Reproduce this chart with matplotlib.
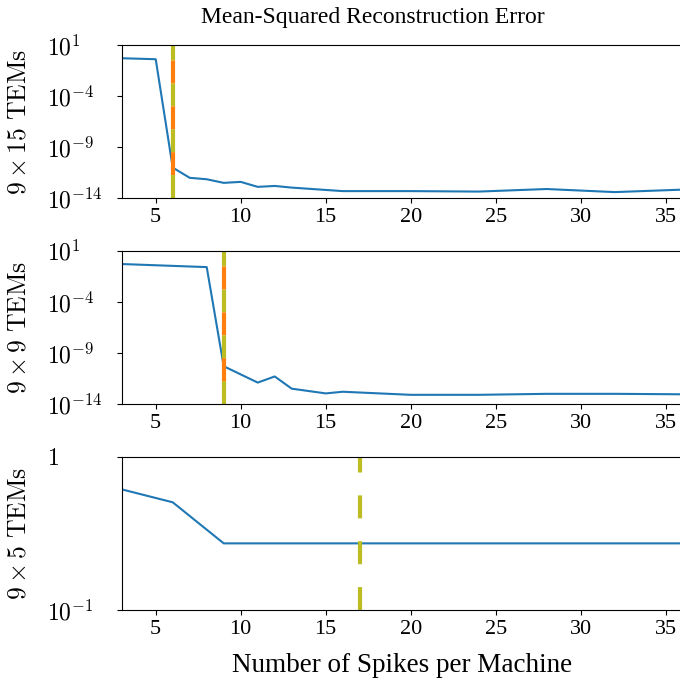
import numpy as np
import matplotlib.pyplot as plt

plt.rcParams['font.family'] = 'Liberation Serif'
plt.rcParams['mathtext.fontset'] = 'cm'

# spikes per machine and MSE for each TEM configuration
x15 = [3, 5, 6, 7, 8, 9, 10, 11, 12, 13, 16, 20, 24, 28, 32, 36]
mse15 = [5.0e-1, 4.0e-1, 1.0e-11, 1.0e-12, 7.2e-13, 3.2e-13, 4.0e-13, 1.3e-13,
         1.6e-13, 1.1e-13, 5.0e-14, 5.0e-14, 4.5e-14, 8.0e-14, 4.0e-14, 7.0e-14]

x9 = [3, 6, 8, 9, 11, 12, 13, 15, 16, 20, 24, 28, 32, 36]
mse9 = [5.0e-1, 3.3e-1, 2.5e-1, 5.0e-11, 1.26e-12, 5.0e-12, 3.2e-13, 1.1e-13,
        1.6e-13, 8.0e-14, 8.0e-14, 1.0e-13, 1.0e-13, 9.0e-14]

x5 = [3, 6, 9, 12, 16, 20, 24, 28, 32, 36]
mse5 = [0.612, 0.504, 0.272, 0.272, 0.272, 0.272, 0.272, 0.272, 0.272, 0.272]

# theoretical spike thresholds
thr_olive = [6, 9, 17]
thr_orange = [6, 9, None]

row_labels = [r'$9\times 15\ \mathrm{TEMs}$', r'$9\times 9\ \mathrm{TEMs}$',
              r'$9\times 5\ \mathrm{TEMs}$']
ylims = [(1e-14, 1e1), (1e-14, 1e1), (1e-1, 1)]
yticks = [[1e1, 1e-4, 1e-9, 1e-14], [1e1, 1e-4, 1e-9, 1e-14], [1, 1e-1]]
yticklabels = [[r'$10^{1}$', r'$10^{-4}$', r'$10^{-9}$', r'$10^{-14}$'],
               [r'$10^{1}$', r'$10^{-4}$', r'$10^{-9}$', r'$10^{-14}$'],
               [r'$1$', r'$10^{-1}$']]
xticks = [5, 10, 15, 20, 25, 30, 35]

fig = plt.figure(figsize=(6.8, 6.86), dpi=100)
bottoms = [0.711, 0.411, 0.1108]
data = [(x15, mse15), (x9, mse9), (x5, mse5)]

for i in range(3):
    ax = fig.add_axes([0.179, bottoms[i], 0.825, 0.2235])
    xs, ys = data[i]
    ax.plot(xs, ys, color='#1f77b4', lw=1.5)
    ax.axvline(thr_olive[i], color='#bcbd22', lw=3, linestyle=(0, (5.5, 5.5)))
    if thr_orange[i] is not None:
        ax.axvline(thr_orange[i], color='#ff7f0e', lw=3, linestyle=(5.5, (5.5, 5.5)))
    ax.set_yscale('log')
    ax.set_xlim(3, 36)
    ax.set_ylim(*ylims[i])
    ax.set_yticks(yticks[i])
    ax.set_yticklabels(yticklabels[i], fontsize=17, ha='left')
    ax.minorticks_off()
    ax.set_xticks(xticks)
    ax.tick_params(axis='x', labelsize=16)
    ax.tick_params(axis='y', pad=50)
    ax.set_ylabel(row_labels[i], fontsize=18.5)
    ax.yaxis.set_label_coords(-0.163, 0.5)
    if i == 2:
        ax.set_xlabel('Number of Spikes per Machine', fontsize=19.5, labelpad=10)

fig.text(0.548, 0.967, 'Mean-Squared Reconstruction Error', ha='center',
         va='baseline', fontsize=17)

plt.savefig('out.png', dpi=100)
